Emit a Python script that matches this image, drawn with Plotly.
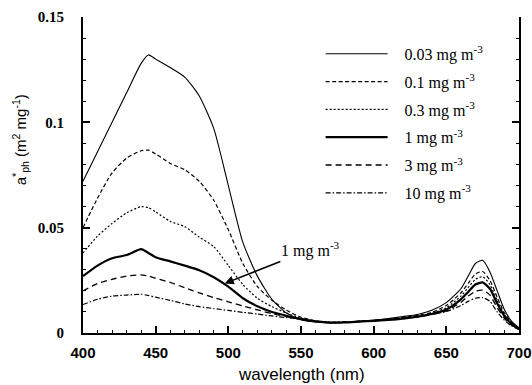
import plotly.graph_objects as go

wavelength = [400, 410, 420, 430, 440, 445, 450, 460, 470, 480, 490, 500, 510, 520, 530, 540, 550,
              560, 570, 580, 590, 600, 610, 620, 630, 640, 650, 660, 665, 670, 675, 680, 685, 690, 695, 700]

a_003 = [0.072, 0.086, 0.100, 0.114, 0.128, 0.132, 0.130, 0.126, 0.1215, 0.1125, 0.097, 0.070, 0.043, 0.027,
         0.016, 0.0095, 0.0063, 0.0052, 0.0048, 0.0050, 0.0055, 0.0060, 0.0068, 0.0078, 0.0088, 0.0108,
         0.0144, 0.021, 0.027, 0.033, 0.0345, 0.029, 0.020, 0.011, 0.0055, 0.0025]
a_01 = [0.050, 0.064, 0.076, 0.083, 0.0865, 0.0868, 0.085, 0.0805, 0.0775, 0.072, 0.063, 0.049, 0.033, 0.022,
        0.0155, 0.0108, 0.0075, 0.0058, 0.0050, 0.0052, 0.0056, 0.0060, 0.0066, 0.0074, 0.0084, 0.0098,
        0.013, 0.019, 0.0235, 0.028, 0.0292, 0.025, 0.017, 0.0095, 0.005, 0.0022]
a_03 = [0.038, 0.046, 0.052, 0.057, 0.060, 0.0595, 0.0575, 0.053, 0.0505, 0.0455, 0.041, 0.032, 0.023, 0.0165,
        0.0125, 0.0095, 0.007, 0.0056, 0.0049, 0.0051, 0.0055, 0.0059, 0.0064, 0.0071, 0.008, 0.0093,
        0.012, 0.0175, 0.0215, 0.0255, 0.0267, 0.023, 0.0155, 0.0087, 0.0045, 0.002]
a_1 = [0.027, 0.032, 0.0355, 0.037, 0.0398, 0.038, 0.036, 0.034, 0.032, 0.0298, 0.0265, 0.022, 0.0165, 0.0127,
       0.010, 0.0082, 0.0066, 0.0055, 0.0049, 0.0050, 0.0054, 0.0058, 0.0062, 0.0068, 0.0077, 0.009,
       0.0112, 0.016, 0.0195, 0.023, 0.024, 0.021, 0.014, 0.008, 0.0042, 0.002]
a_3 = [0.020, 0.0235, 0.0255, 0.027, 0.0276, 0.027, 0.026, 0.024, 0.0215, 0.019, 0.0168, 0.0148, 0.0128, 0.011,
       0.0092, 0.0078, 0.0065, 0.0055, 0.005, 0.0051, 0.0054, 0.0058, 0.0062, 0.0068, 0.0076, 0.0088,
       0.0105, 0.0145, 0.0175, 0.0198, 0.0203, 0.018, 0.012, 0.007, 0.0037, 0.0018]
a_10 = [0.0135, 0.016, 0.0175, 0.018, 0.0184, 0.0178, 0.017, 0.0155, 0.0138, 0.0125, 0.0116, 0.0107, 0.0098,
        0.009, 0.0081, 0.0073, 0.0065, 0.0057, 0.0052, 0.0053, 0.0056, 0.006, 0.0064, 0.007, 0.0078, 0.009,
        0.0102, 0.013, 0.015, 0.0165, 0.0168, 0.015, 0.010, 0.006, 0.0033, 0.0016]

series_names = ["0.03 mg m<sup>-3</sup>", "0.1 mg m<sup>-3</sup>", "0.3 mg m<sup>-3</sup>",
                "1 mg m<sup>-3</sup>", "3 mg m<sup>-3</sup>", "10 mg m<sup>-3</sup>"]
series_values = [a_003, a_01, a_03, a_1, a_3, a_10]
styles = [("solid", 1.1), ("4px,2.5px", 1.2), ("2px,2px", 1.2), ("solid", 2.2), ("6px,4px", 1.3),
          ("5px,2px,1.5px,2px", 1.2)]

x_ticks = [400, 450, 500, 550, 600, 650, 700]
x_ticklabels = ["400", "450", "500", "550", "600", "650", "700"]
y_ticks = [0, 0.05, 0.1, 0.15]
y_ticklabels = ["0", "0.05", "0.1", "0.15"]

NB = "\u00a0\u00a0\u00a0"

fig = go.Figure()
for i, (name, vals, (dash, w)) in enumerate(zip(series_names, series_values, styles)):
    fig.add_trace(go.Scatter(x=wavelength, y=vals, mode="lines", name=NB + name, legendgroup=f"g{i}",
                             line=dict(color="black", width=w, dash=dash, shape="spline", smoothing=0.6)))

fig.add_annotation(x=497.5, y=0.0235, xref="x", yref="y", text="1 mg m<sup>-3</sup>",
                   showarrow=True, arrowhead=2, arrowsize=1.2, arrowwidth=1.5, arrowcolor="black",
                   ax=86, ay=-34, font=dict(family="Liberation Serif", size=16, color="black"))

# y-axis title placed as rotated text
fig.add_annotation(xref="paper", yref="paper", x=0, y=0.61, xshift=-63, showarrow=False,
                   textangle=-90, xanchor="center", yanchor="middle",
                   text="a<sup>*</sup><sub>ph</sub> (m<sup>2</sup> mg<sup>-1</sup>)",
                   font=dict(family="Liberation Sans", size=15, color="black"))

# x-axis title
fig.add_annotation(xref="paper", yref="paper", x=0.5, y=0, yshift=-41, showarrow=False,
                   xanchor="center", yanchor="middle", text="wavelength (nm)",
                   font=dict(family="Liberation Sans", size=17, color="black"))

fig.update_layout(
    width=532, height=385,
    margin=dict(l=83, r=13, t=17, b=52),
    plot_bgcolor="white", paper_bgcolor="white",
    showlegend=True,
    legend=dict(x=0.545, y=0.937, xanchor="left", yanchor="top", bgcolor="rgba(0,0,0,0)",
                font=dict(family="Liberation Serif", size=16, color="black"),
                traceorder="grouped", tracegroupgap=4, itemwidth=62),
    xaxis=dict(range=[400, 700], tickvals=x_ticks, ticktext=x_ticklabels, ticks="inside", ticklen=7,
               tickwidth=1.5, tickcolor="black", showline=True, linecolor="black", linewidth=1.8,
               showgrid=False, zeroline=False, ticklabelstandoff=5, automargin=False,
               tickfont=dict(family="Liberation Sans", size=15, color="black", weight="bold"),
               minor=dict(dtick=10, ticks="inside", ticklen=3, tickwidth=1.2, tickcolor="black")),
    yaxis=dict(range=[0, 0.15], tickvals=y_ticks, ticktext=y_ticklabels, ticks="inside", ticklen=7,
               tickwidth=1.5, tickcolor="black", showline=True, linecolor="black", linewidth=1.8,
               mirror="ticks", showgrid=False, zeroline=False, ticklabelstandoff=14, automargin=False,
               tickfont=dict(family="Liberation Serif", size=15, color="black", weight="bold"),
               minor=dict(dtick=0.01, ticks="inside", ticklen=3, tickwidth=1.2, tickcolor="black")),
)

fig.write_html("out.html")
